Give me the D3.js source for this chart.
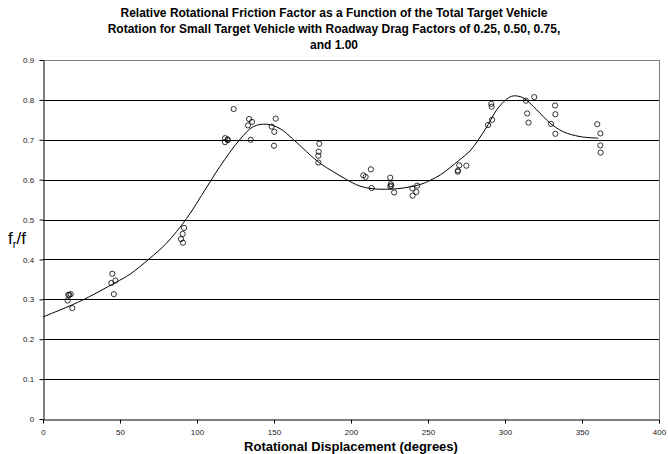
<!DOCTYPE html>
<html>
<head>
<meta charset="utf-8">
<script src="https://cdn.jsdelivr.net/npm/d3@7"></script>
<style>
  body { margin: 0; background: white; }
  svg { font-family: "Liberation Sans", Arial, sans-serif; }
</style>
</head>
<body>
<div class="wrapper"></div>
<script>
const w = 668
const h = 454
const margin = { left: 43, right: 9, top: 60, bottom: 35 }

const titleLines = [
  "Relative Rotational Friction Factor as a Function of the Total Target Vehicle",
  "Rotation for Small Target Vehicle with Roadway Drag Factors of 0.25, 0.50, 0.75,",
  "and 1.00"
]
const xTicks = [0, 50, 100, 150, 200, 250, 300, 350, 400]
const yTicks = [0, 0.1, 0.2, 0.3, 0.4, 0.5, 0.6, 0.7, 0.8, 0.9]

// measured points (degrees, fr/f)
const pointX = [16, 16.4, 17.1, 18, 19, 44.4, 45, 46, 47,
  89.6, 90.7, 90.9, 91.6,
  118.2, 119.9, 118.2, 120, 123.8, 133.1, 133.8, 134.9, 135.7, 148.5, 150, 150.2, 151.1,
  178.8, 178.8, 179, 179.4,
  208, 209.5, 212.9, 213.4, 225.5, 225.5, 225.8, 226.2, 228, 239.8, 240, 242.4, 243,
  269.3, 269.5, 270.3, 274.9, 289, 291.1, 291.3, 291.6,
  313.6, 314.4, 315.3, 319, 329.9, 332.5, 332.7, 332.7,
  359.9, 361.9, 361.9, 362.1]
const pointY = [0.297, 0.311, 0.311, 0.313, 0.278, 0.341, 0.364, 0.313, 0.347,
  0.451, 0.464, 0.442, 0.479,
  0.704, 0.701, 0.694, 0.699, 0.777, 0.736, 0.752, 0.700, 0.745, 0.733, 0.685, 0.720, 0.753,
  0.643, 0.660, 0.670, 0.690,
  0.611, 0.607, 0.626, 0.579, 0.605, 0.583, 0.589, 0.585, 0.568, 0.578, 0.560, 0.569, 0.585,
  0.620, 0.623, 0.636, 0.635, 0.737, 0.790, 0.783, 0.750,
  0.798, 0.766, 0.743, 0.807, 0.740, 0.786, 0.764, 0.715,
  0.739, 0.716, 0.686, 0.668]

// fitted curve
const curveX = [0, 24, 47, 56.5, 68.8, 80, 93.3, 105.8, 114.9, 127.9, 136.6, 145.3, 153.9, 162.5,
  171.2, 179.9, 188.5, 197.2, 205.8, 214.5, 223.2, 231.8, 245, 251.3, 258, 264.3, 270, 277.3, 282.7,
  289.2, 294.6, 301.1, 305.4, 311.9, 320.6, 329.2, 337.9, 348.7, 360.6]
const curveY = [0.256, 0.295, 0.342, 0.363, 0.401, 0.440, 0.503, 0.578, 0.633, 0.701, 0.733, 0.739, 0.728, 0.701,
  0.670, 0.641, 0.620, 0.600, 0.584, 0.577, 0.576, 0.578, 0.588, 0.598, 0.612, 0.630, 0.648, 0.672, 0.700,
  0.739, 0.775, 0.802, 0.810, 0.805, 0.775, 0.742, 0.720, 0.708, 0.704]

const xScale = d3.scaleLinear().domain([0, 400]).range([margin.left, w - margin.right])
const yScale = d3.scaleLinear().domain([0, 0.9]).range([h - margin.bottom, margin.top])

const svg = d3.select(".wrapper")
  .append("svg")
  .attr("width", w)
  .attr("height", h)

// title
svg.append("g")
  .selectAll("text")
  .data(titleLines)
  .enter()
  .append("text")
  .attr("x", 334)
  .attr("y", (d, i) => 17 + i * 16)
  .attr("text-anchor", "middle")
  .attr("font-size", "12px")
  .attr("font-weight", "bold")
  .text((d) => d)

// gridlines
svg.append("g")
  .selectAll("line")
  .data(yTicks.filter((d) => d > 0))
  .enter()
  .append("line")
  .attr("x1", xScale(0))
  .attr("x2", xScale(400))
  .attr("y1", (d) => Math.round(yScale(d)) + 0.5)
  .attr("y2", (d) => Math.round(yScale(d)) + 0.5)
  .attr("stroke", (d) => d === 0.9 ? "#808080" : "black")
  .attr("stroke-width", 1)

// right border
svg.append("line")
  .attr("x1", Math.round(xScale(400)) + 0.5)
  .attr("x2", Math.round(xScale(400)) + 0.5)
  .attr("y1", yScale(0.9))
  .attr("y2", yScale(0))
  .attr("stroke", "#808080")

const xAxis = d3.axisBottom(xScale).tickValues(xTicks).tickSize(4).tickSizeOuter(0)
const yAxis = d3.axisLeft(yScale).tickValues(yTicks).tickSize(4).tickSizeOuter(0)
  .tickFormat((d) => d === 0 ? "0" : d3.format(".1f")(d))

const gx = svg.append("g")
  .attr("transform", "translate(0, " + (Math.round(yScale(0)) + 0.5) + ")")
  .call(xAxis)
const gy = svg.append("g")
  .attr("transform", "translate(" + (Math.round(xScale(0)) + 0.5) + ", 0)")
  .call(yAxis)

for (const g of [gx, gy]) {
  g.selectAll("text").attr("font-size", "8px").attr("fill", "#222").attr("font-family", "Liberation Sans, Arial, sans-serif")
  g.selectAll("line").attr("stroke", "black")
  g.select(".domain").attr("stroke", "black")
}
gx.selectAll("text").attr("dy", "1.0em")
gy.selectAll("text").attr("dx", "-0.3em")

// fitted line
const line = d3.line()
  .x((d, i) => xScale(curveX[i]))
  .y((d) => yScale(d))
  .curve(d3.curveCatmullRom.alpha(0.5))

svg.append("path")
  .datum(curveY)
  .attr("d", line)
  .attr("fill", "none")
  .attr("stroke", "black")
  .attr("stroke-width", 1)

// data points
svg.append("g")
  .selectAll("circle")
  .data(pointY)
  .enter()
  .append("circle")
  .attr("cx", (d, i) => xScale(pointX[i]))
  .attr("cy", (d) => yScale(d))
  .attr("r", 2.6)
  .attr("fill", "none")
  .attr("stroke", "black")
  .attr("stroke-width", 0.8)

// axis titles
svg.append("text")
  .attr("x", xScale(200))
  .attr("y", 451)
  .attr("text-anchor", "middle")
  .attr("font-size", "13px")
  .attr("font-weight", "bold")
  .text("Rotational Displacement (degrees)")

const yLabel = svg.append("text")
  .attr("x", 8)
  .attr("y", 244)
  .attr("font-size", "17px")
yLabel.append("tspan").text("f")
yLabel.append("tspan").attr("font-size", "11px").attr("dy", 4).text("r")
yLabel.append("tspan").attr("dy", -4).text("/f")
</script>
</body>
</html>
